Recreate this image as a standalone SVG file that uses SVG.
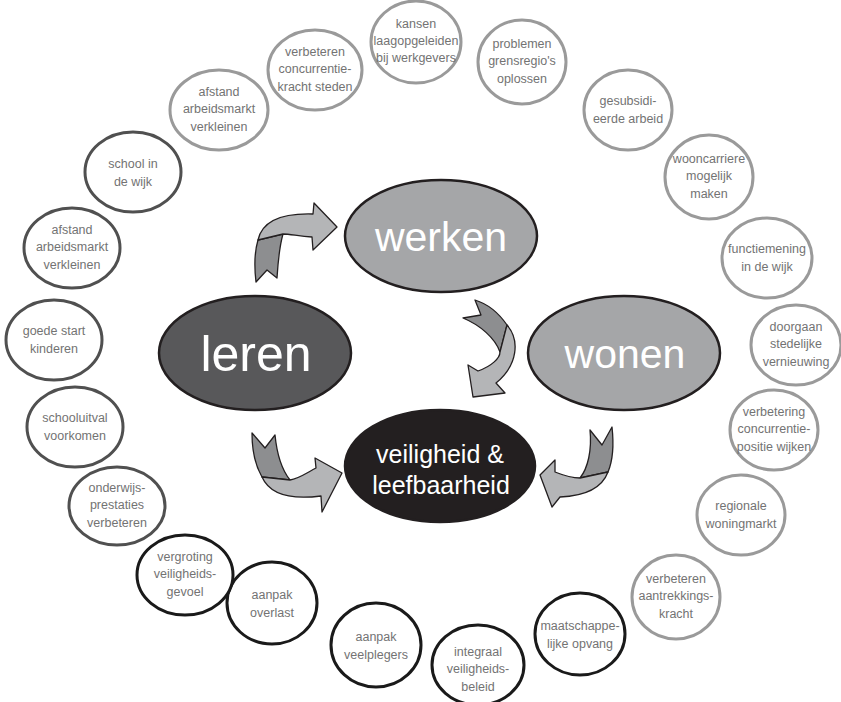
<svg xmlns="http://www.w3.org/2000/svg" width="841" height="702" viewBox="0 0 841 702">
<style>
.s{fill:#fff;stroke-width:3}
.g1{stroke:#9a9a9a}
.g2{stroke:#505050}
.g3{stroke:#1a1a1a}
.t{font-family:"Liberation Sans",Arial,sans-serif;font-size:12.5px;fill:#737373;text-anchor:middle}
.big{font-family:"Liberation Sans",Arial,sans-serif;fill:#fff;text-anchor:middle}
.m{stroke:#231f20;stroke-width:2.5}
.al{fill:#b4b5b7;stroke:#231f20;stroke-width:1.3;stroke-linejoin:round}
.ad{fill:#8d8e90;stroke:#231f20;stroke-width:1.3;stroke-linejoin:round}
</style>
<rect width="841" height="702" fill="#fff"/>
<g id="connectors">
<path class="ad" d="M258,240 L283,234 C279,248 278,262 277,278 L267,270 L256,282 C254,265 255,250 258,240 Z"/>
<path class="al" d="M258,240 C262,222 280,213 313,214 L314,203 L337,227 L313,250 L312,237 C298,236 290,234 283,234 Z"/>
<path class="ad" d="M507,325 C498,312 488,304 475,300 L481,315 L463,318 C480,325 495,338 500,352 Z"/>
<path class="al" d="M507,325 C520,340 518,365 496,383 L505,393 L473,397 L468,365 L478,371 C492,366 500,358 500,352 Z"/>
<path class="ad" d="M262,477 L290,480 C282,470 277,455 275,435 L265,448 L252,433 C252,450 255,465 262,477 Z"/>
<path class="al" d="M262,477 C270,495 290,500 321,496 L322,512 L342,473 L315,458 L316,468 C305,474 298,479 290,480 Z"/>
<path class="ad" d="M608,472 L580,478 C588,468 592,450 590,430 L602,445 L612,427 C614,445 613,460 608,472 Z"/>
<path class="al" d="M608,472 C602,488 585,496 560,497 L552,507 L540,475 L555,460 L555,472 C565,476 572,478 580,478 Z"/>
</g>
<g id="werken"><ellipse class="m" cx="441" cy="236" rx="96" ry="56" fill="#a5a6a8"/><text class="big" x="441" y="251" font-size="41">werken</text></g>
<g id="wonen"><ellipse class="m" cx="624" cy="353" rx="96" ry="57" fill="#a5a6a8"/><text class="big" x="625" y="368" font-size="41">wonen</text></g>
<g id="leren"><ellipse class="m" cx="255" cy="353" rx="96" ry="57" fill="#58585a"/><text class="big" x="256" y="371" font-size="50">leren</text></g>
<g id="veiligheid"><ellipse class="m" cx="440" cy="466" rx="95" ry="56" fill="#231f20"/><text class="big" x="440" y="463" font-size="25">veiligheid &amp;</text><text class="big" x="441" y="494" font-size="25">leefbaarheid</text></g>

<g id="n1"><ellipse class="s g1" cx="416" cy="42" rx="45" ry="41"/><text class="t" x="416" y="28">kansen</text><text class="t" x="416" y="45">laagopgeleiden</text><text class="t" x="416" y="62">bij werkgevers</text></g>
<g id="n2"><ellipse class="s g1" cx="315" cy="70" rx="47" ry="40"/><text class="t" x="315" y="56">verbeteren</text><text class="t" x="315" y="73">concurrentie-</text><text class="t" x="315" y="91">kracht steden</text></g>
<g id="n3"><ellipse class="s g1" cx="522" cy="62" rx="44" ry="42"/><text class="t" x="522" y="48">problemen</text><text class="t" x="522" y="65">grensregio's</text><text class="t" x="522" y="83">oplossen</text></g>
<g id="n4"><ellipse class="s g1" cx="628" cy="110" rx="44" ry="40"/><text class="t" x="628" y="105">gesubsidi-</text><text class="t" x="628" y="123">eerde arbeid</text></g>
<g id="n5"><ellipse class="s g1" cx="709" cy="177" rx="44" ry="42"/><text class="t" x="709" y="163">wooncarriere</text><text class="t" x="709" y="180">mogelijk</text><text class="t" x="709" y="198">maken</text></g>
<g id="n6"><ellipse class="s g1" cx="767" cy="258" rx="45" ry="40"/><text class="t" x="767" y="253">functiemening</text><text class="t" x="767" y="271">in de wijk</text></g>
<g id="n7"><ellipse class="s g1" cx="796" cy="345" rx="45" ry="40"/><text class="t" x="796" y="331">doorgaan</text><text class="t" x="796" y="348">stedelijke</text><text class="t" x="796" y="366">vernieuwing</text></g>
<g id="n8"><ellipse class="s g1" cx="774" cy="430" rx="44" ry="40"/><text class="t" x="774" y="416">verbetering</text><text class="t" x="774" y="433">concurrentie-</text><text class="t" x="774" y="451">positie wijken</text></g>
<g id="n9"><ellipse class="s g1" cx="741" cy="515" rx="44" ry="40"/><text class="t" x="741" y="510">regionale</text><text class="t" x="741" y="528">woningmarkt</text></g>
<g id="n10"><ellipse class="s g1" cx="676" cy="597" rx="44" ry="42"/><text class="t" x="676" y="583">verbeteren</text><text class="t" x="676" y="600">aantrekkings-</text><text class="t" x="676" y="618">kracht</text></g>
<g id="n11"><ellipse class="s g3" cx="580" cy="634" rx="45" ry="41"/><text class="t" x="580" y="630">maatschappe-</text><text class="t" x="580" y="648">lijke opvang</text></g>
<g id="n12"><ellipse class="s g3" cx="478" cy="665" rx="46" ry="40"/><text class="t" x="478" y="656">integraal</text><text class="t" x="478" y="673">veiligheids-</text><text class="t" x="478" y="691">beleid</text></g>
<g id="n13"><ellipse class="s g3" cx="376" cy="645" rx="45" ry="42"/><text class="t" x="376" y="641">aanpak</text><text class="t" x="376" y="659">veelplegers</text></g>
<g id="n14"><ellipse class="s g3" cx="272" cy="603" rx="45" ry="41"/><text class="t" x="272" y="599">aanpak</text><text class="t" x="272" y="617">overlast</text></g>
<g id="n15"><ellipse class="s g3" cx="185" cy="575" rx="48" ry="40"/><text class="t" x="185" y="561">vergroting</text><text class="t" x="185" y="578">veiligheids-</text><text class="t" x="185" y="596">gevoel</text></g>
<g id="n16"><ellipse class="s g2" cx="117" cy="506" rx="48" ry="39"/><text class="t" x="117" y="492">onderwijs-</text><text class="t" x="117" y="509">prestaties</text><text class="t" x="117" y="527">verbeteren</text></g>
<g id="n17"><ellipse class="s g2" cx="75" cy="427" rx="48" ry="40"/><text class="t" x="75" y="422">schooluitval</text><text class="t" x="75" y="440">voorkomen</text></g>
<g id="n18"><ellipse class="s g2" cx="54" cy="340" rx="48" ry="40"/><text class="t" x="54" y="335">goede start</text><text class="t" x="54" y="353">kinderen</text></g>
<g id="n19"><ellipse class="s g2" cx="72" cy="248" rx="48" ry="40"/><text class="t" x="72" y="234">afstand</text><text class="t" x="72" y="251">arbeidsmarkt</text><text class="t" x="72" y="269">verkleinen</text></g>
<g id="n20"><ellipse class="s g2" cx="133" cy="172" rx="48" ry="40"/><text class="t" x="133" y="168">school in</text><text class="t" x="133" y="186">de wijk</text></g>
<g id="n21"><ellipse class="s g1" cx="219" cy="110" rx="49" ry="40"/><text class="t" x="219" y="96">afstand</text><text class="t" x="219" y="113">arbeidsmarkt</text><text class="t" x="219" y="131">verkleinen</text></g>
</svg>
